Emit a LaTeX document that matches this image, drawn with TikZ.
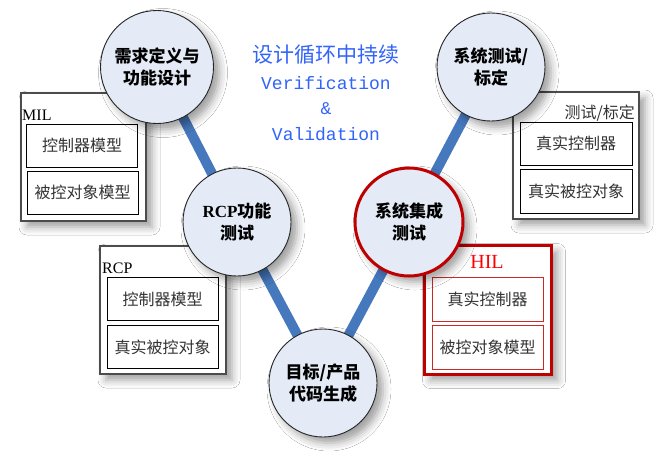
\documentclass[tikz,border=0pt]{standalone}
\usepackage{fontspec}
\setmainfont{Liberation Serif}
\newfontfamily\cjk{Noto Sans CJK SC}
\newfontfamily\monofam{Liberation Mono}
\usetikzlibrary{shadows.blur}
\definecolor{linkblue}{RGB}{70,120,190}
\definecolor{circfill}{RGB}{228,235,246}
\definecolor{titleblue}{RGB}{50,100,250}
\definecolor{hilred}{RGB}{190,0,0}
\definecolor{innerred}{RGB}{205,40,40}
\pgfdeclarelayer{bg}
\pgfsetlayers{bg,main}
\tikzset{
  softshadow/.style={blur shadow={shadow xshift=6pt, shadow yshift=-6pt, shadow blur radius=8pt, shadow opacity=38}},
  stage/.style={circle, draw=black!85, line width=0.9pt, fill=circfill, inner sep=0pt, align=center,
    font=\cjk\bfseries\fontsize{17}{22}\selectfont, softshadow},
  link/.style={linkblue, line width=10pt},
  outerbox/.style={draw=black!70, line width=1.1pt, fill=white, inner sep=0pt, softshadow},
  innerbox/.style={draw=black, line width=0.8pt, fill=white, inner sep=0pt,
    minimum width=111pt, minimum height=43pt, font=\cjk\fontsize{16}{18}\selectfont, text=black!80},
  redinner/.style={innerbox, draw=innerred},
  boxlabel/.style={inner sep=0pt, font=\fontsize{16}{16}\selectfont},
  titletext/.style={inner sep=0pt, text=titleblue}
}
\begin{document}
\begin{tikzpicture}[x=1pt, y=-1pt]
\useasboundingbox (0,0) rectangle (660,451);

% boxes
\node[outerbox, minimum width=125pt, minimum height=128pt] (mil) at (83.5,157) {};
\node[innerbox] (mil1) at (82,145.5) {控制器模型};
\node[innerbox] (mil2) at (82.5,192.5) {被控对象模型};
\node[boxlabel, anchor=base west] (milL) at (22,120) {MIL};

\node[outerbox, minimum width=126pt, minimum height=128pt] (rcp) at (163,310) {};
\node[innerbox] (rcp1) at (162.5,299) {控制器模型};
\node[innerbox] (rcp2) at (162.5,347) {真实被控对象};
\node[boxlabel, anchor=base west] (rcpL) at (102,273) {RCP};

\node[outerbox, minimum width=126pt, minimum height=127pt] (cal) at (576,155.5) {};
\node[innerbox, minimum width=112pt] (cal1) at (576,143.5) {真实控制器};
\node[innerbox, minimum width=112pt, minimum height=44pt] (cal2) at (576,191) {真实被控对象};
\node[boxlabel, anchor=east, font=\cjk\fontsize{16}{16}\selectfont, text=black!80] (calL) at (635,113) {测试/标定};

\node[outerbox, draw=hilred, line width=3pt, minimum width=127pt, minimum height=129pt] (hil) at (488,310) {};
\node[redinner, minimum height=44pt] (hil1) at (487.5,299) {真实控制器};
\node[redinner, minimum height=44pt] (hil2) at (487.5,347) {被控对象模型};
\node[boxlabel, anchor=base, text=red, font=\fontsize{20}{20}\selectfont] (hilL) at (487,268) {HIL};

% circles
\node[stage, minimum size=113pt] (c1) at (157,67) {需求定义与\\功能设计};
\node[stage, minimum size=108pt] (c2) at (237,222) {{\rmfamily RCP}功能\\测试};
\node[stage, minimum size=108pt] (c3) at (323,383) {目标/产品\\代码生成};
\node[stage, minimum size=108pt, draw=hilred, line width=3pt] (c4) at (409,222) {系统集成\\测试};
\node[stage, minimum size=108pt] (c5) at (491,67) {系统测试/\\标定};

\begin{pgfonlayer}{bg}
\fill[white] (0,0) rectangle (660,451);
\draw[link] (c1.center) -- (c2.center);
\draw[link] (c2.center) -- (c3.center);
\draw[link] (c3.center) -- (c4.center);
\draw[link] (c4.center) -- (c5.center);
\end{pgfonlayer}

% title
\node[titletext, font=\cjk\fontsize{21}{21}\selectfont] (t1) at (326,55) {设计循环中持续};
\node[titletext, font=\monofam\fontsize{18}{18}\selectfont] (t2) at (326,83) {Verification};
\node[titletext, font=\monofam\fontsize{18}{18}\selectfont] (t3) at (326,109) {\&};
\node[titletext, font=\monofam\fontsize{18}{18}\selectfont] (t4) at (326,134) {Validation};
\end{tikzpicture}
\end{document}
